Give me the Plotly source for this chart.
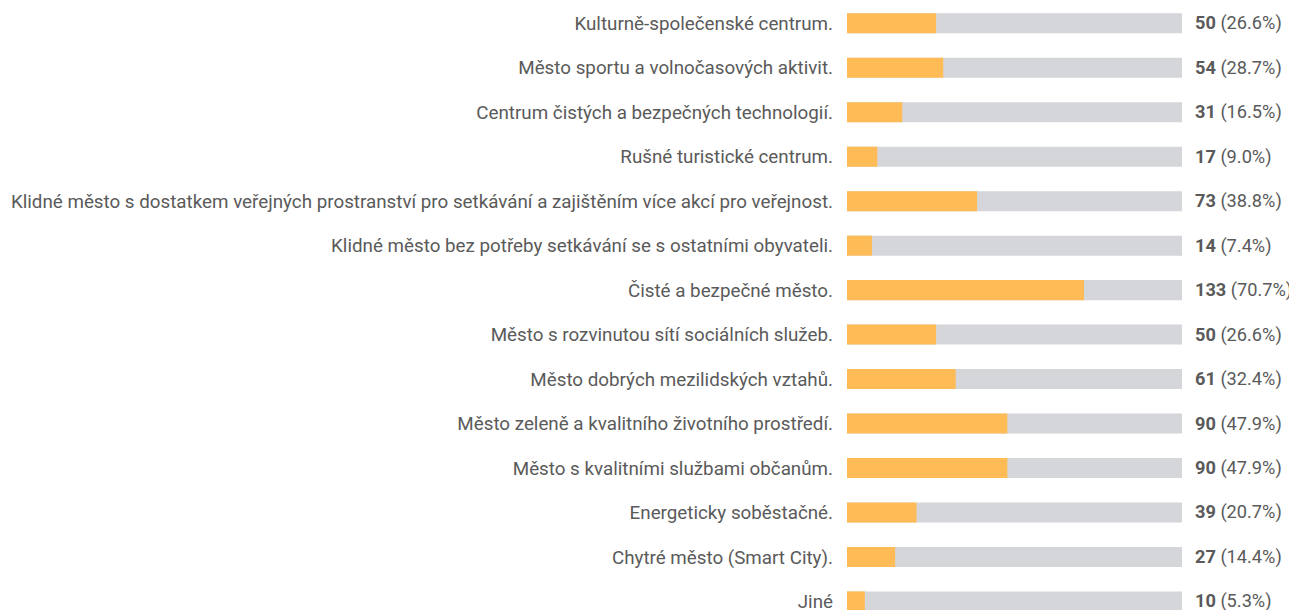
import plotly.graph_objects as go

CATEGORIES = [
    'Kulturně-společenské centrum.',
    'Město sportu a volnočasových aktivit.',
    'Centrum čistých a bezpečných technologií.',
    'Rušné turistické centrum.',
    'Klidné město s dostatkem veřejných prostranství pro setkávání a zajištěním více akcí pro veřejnost.',
    'Klidné město bez potřeby setkávání se s ostatními obyvateli.',
    'Čisté a bezpečné město.',
    'Město s rozvinutou sítí sociálních služeb.',
    'Město dobrých mezilidských vztahů.',
    'Město zeleně a kvalitního životního prostředí.',
    'Město s kvalitními službami občanům.',
    'Energeticky soběstačné.',
    'Chytré město (Smart City).',
    'Jiné',
]
COUNTS = [50, 54, 31, 17, 73, 14, 133, 50, 61, 90, 90, 39, 27, 10]
PERCENTS = [26.6, 28.7, 16.5, 9.0, 38.8, 7.4, 70.7, 26.6, 32.4, 47.9, 47.9, 20.7, 14.4, 5.3]
TOTAL = 188

ORANGE = '#FFBB55'
GREY = '#D5D6DA'
TEXT = '#5A5A5A'
FONT = 'Roboto, Arial, sans-serif'
FS = 18.8

fig = go.Figure()

# grey track behind each bar
fig.add_trace(go.Bar(
    x=[TOTAL] * len(CATEGORIES), y=CATEGORIES, orientation='h',
    marker=dict(color=GREY, line=dict(width=0)), width=0.45,
    hoverinfo='skip', showlegend=False,
))
fig.add_trace(go.Bar(
    x=COUNTS, y=CATEGORIES, orientation='h',
    marker=dict(color=ORANGE, line=dict(width=0)), width=0.45,
    showlegend=False,
))

for cat, n, p in zip(CATEGORIES, COUNTS, PERCENTS):
    fig.add_annotation(
        x=TOTAL, y=cat, xref='x', yref='y', xanchor='left', xshift=11,
        text=f'<b>{n}</b> ({p:.1f}%)', showarrow=False,
        font=dict(family=FONT, size=18.2, color=TEXT),
    )

# page body has an 8px margin, so the figure is offset by that
fig.update_layout(
    barmode='overlay',
    width=1289, height=602,
    margin=dict(l=839, r=114.5, t=0, b=0),
    paper_bgcolor='white', plot_bgcolor='white',
    font=dict(family=FONT, size=FS, color=TEXT),
    xaxis=dict(range=[0, TOTAL], visible=False, fixedrange=True),
    yaxis=dict(
        type='category', categoryorder='array', categoryarray=CATEGORIES,
        range=[13.193, -0.344], showgrid=False, zeroline=False, showline=False,
        ticks='', ticklabelstandoff=13, automargin=False,
        tickfont=dict(family=FONT, size=FS, color=TEXT),
    ),
)

fig.write_html('out.html')
